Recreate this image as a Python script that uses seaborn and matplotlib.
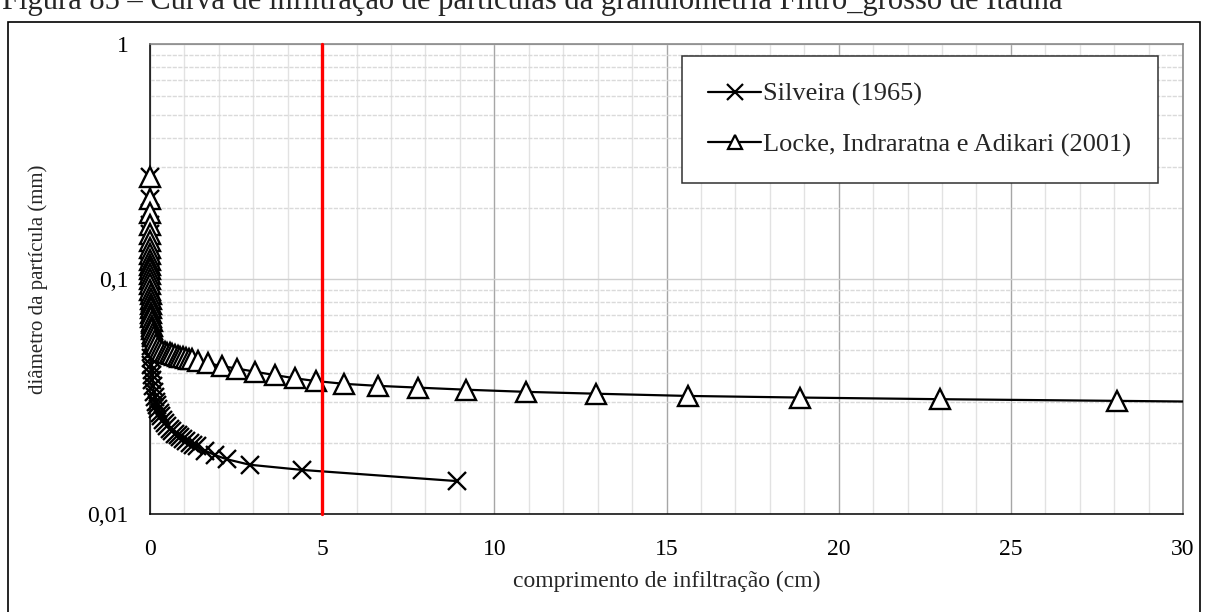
import matplotlib
matplotlib.use("Agg")
import matplotlib.pyplot as plt
import matplotlib.ticker as mticker
from matplotlib.lines import Line2D
from matplotlib.patches import Rectangle
from matplotlib.transforms import Bbox, TransformedBbox
import pandas as pd
import seaborn as sns

# Silveira (1965): infiltration length (cm) vs particle diameter (mm)
silveira_x = [0.00, 0.00, 0.00, 0.00, 0.00, 0.00, 0.00, 0.00, 0.00, 0.00,
              0.00, 0.00, 0.01, 0.01, 0.01, 0.01, 0.01, 0.02, 0.02, 0.02,
              0.03, 0.03, 0.04, 0.05, 0.06, 0.07, 0.09, 0.11, 0.14, 0.17,
              0.20, 0.24, 0.28, 0.33, 0.38, 0.44, 0.50, 0.57, 0.64, 0.72,
              0.80, 0.88, 0.97, 1.06, 1.16, 1.26, 1.36, 1.60, 1.89, 2.23,
              2.90, 4.42, 8.93]
silveira_d = [0.272, 0.220, 0.190, 0.170, 0.155, 0.143, 0.132, 0.122, 0.113, 0.105,
              0.098, 0.091, 0.085, 0.079, 0.074, 0.069, 0.064, 0.060, 0.056, 0.052,
              0.049, 0.046, 0.043, 0.041, 0.039, 0.037, 0.035, 0.033, 0.0315, 0.0300,
              0.0290, 0.0280, 0.0270, 0.0260, 0.0251, 0.0243, 0.0236, 0.0230, 0.0225, 0.0220,
              0.0216, 0.0212, 0.0208, 0.0205, 0.0201, 0.0197, 0.0194, 0.0186, 0.0178, 0.0171,
              0.0162, 0.0154, 0.0138]

# Locke, Indraratna e Adikari (2001)
locke_x = [0.00, 0.00, 0.00, 0.00, 0.00, 0.00, 0.00, 0.00, 0.00, 0.00,
           0.01, 0.01, 0.01, 0.01, 0.01, 0.02, 0.02, 0.02, 0.03, 0.03,
           0.04, 0.05, 0.06, 0.07, 0.09, 0.11, 0.14, 0.18, 0.23, 0.30,
           0.36, 0.43, 0.50, 0.57, 0.64, 0.72, 0.80, 0.88, 0.96, 1.04,
           1.12, 1.21, 1.40, 1.69, 2.08, 2.52, 3.05, 3.63, 4.21, 4.81,
           5.64, 6.61, 7.78, 9.18, 10.91, 12.95, 15.61, 18.88, 22.93, 28.08,
           34.20]
locke_d = [0.272, 0.220, 0.190, 0.170, 0.155, 0.145, 0.136, 0.128, 0.121, 0.115,
           0.110, 0.105, 0.100, 0.095, 0.090, 0.086, 0.082, 0.078, 0.075, 0.072,
           0.069, 0.066, 0.063, 0.061, 0.059, 0.057, 0.055, 0.053, 0.0515, 0.0502,
           0.0496, 0.0491, 0.0486, 0.0482, 0.0478, 0.0474, 0.0470, 0.0467, 0.0464, 0.0461,
           0.0458, 0.0455, 0.0448, 0.0438, 0.0426, 0.0416, 0.0403, 0.0390, 0.0378, 0.0368,
           0.0358, 0.0351, 0.0345, 0.0338, 0.0331, 0.0325, 0.0318, 0.0313, 0.0308, 0.0303,
           0.0297]

series_names = ["Silveira (1965)", "Locke, Indraratna e Adikari (2001)"]
limit_length = 5

x_ticks = [0, 5, 10, 15, 20, 25, 30]
y_ticks = [0.01, 0.1, 1]
y_tick_labels = ["0,01", "0,1", "1"]

caption = ("Figura 85 – Curva de infiltração de partículas da granulometria "
           "Filtro_grosso de Itaúna")

sns.set_theme(style="white")
plt.rcParams["font.family"] = ["Liberation Serif", "DejaVu Serif"]

W, H = 1206, 612
fig = plt.figure(figsize=(W / 100, H / 100), dpi=100)
fig.patch.set_facecolor("white")
ax = fig.add_axes([150 / W, 1 - 514 / H, (1183 - 150) / W, (514 - 44) / H])

sil = pd.DataFrame({"x": silveira_x, "d": silveira_d})
loc = pd.DataFrame({"x": locke_x, "d": locke_d})

sns.lineplot(data=sil, x="x", y="d", estimator=None, sort=False, ax=ax,
             color="black", linewidth=1.6, marker="x", markersize=13,
             markeredgewidth=1.7, markeredgecolor="black", zorder=3)
sns.lineplot(data=loc, x="x", y="d", estimator=None, sort=False, ax=ax,
             color="black", linewidth=1.6, marker="^", markersize=15,
             markerfacecolor="white", markeredgecolor="black",
             markeredgewidth=1.7, zorder=4)
ax.axvline(limit_length, color="#ff0000", linewidth=2.4, zorder=5)

ax.set_yscale("log")
ax.set_xlim(0, 30)
ax.set_ylim(0.01, 1)

# let the markers sitting on x = 0 spill past the left spine
clip = TransformedBbox(Bbox([[-0.03, -0.03], [1.0, 1.03]]), ax.transAxes)
for ln in ax.lines:
    ln.set_clip_path(None)
    ln.set_clip_box(clip)

ax.set_xticks(x_ticks)
ax.set_xticklabels([str(t) for t in x_ticks])
ax.set_yticks(y_ticks)
ax.set_yticklabels(y_tick_labels)
ax.xaxis.set_minor_locator(mticker.MultipleLocator(1))
ax.yaxis.set_minor_locator(mticker.LogLocator(base=10, subs=range(2, 10)))
ax.yaxis.set_minor_formatter(mticker.NullFormatter())
ax.tick_params(which="both", length=0, labelsize=17, colors="black")
ax.tick_params(axis="x", pad=18)
ax.tick_params(axis="y", pad=15.5)

ax.grid(which="major", axis="x", color="#a6a6a6", linewidth=1.0)
ax.grid(which="minor", axis="x", color="#e2e2e2", linewidth=1.0)
ax.grid(which="major", axis="y", color="#cfcfcf", linewidth=1.0)
ax.grid(which="minor", axis="y", color="#dadada", linewidth=1.0,
        linestyle=(0, (3, 1)))
ax.set_axisbelow(True)

for side in ("left", "bottom"):
    ax.spines[side].set_color("#000000")
    ax.spines[side].set_linewidth(1.1)
for side in ("top", "right"):
    ax.spines[side].set_color("#808080")
    ax.spines[side].set_linewidth(1.1)

ax.set_xlabel("comprimento de infiltração (cm)", fontsize=17, labelpad=8)
ax.set_ylabel("diâmetro da partícula (mm)", fontsize=15)
ax.yaxis.set_label_coords(-0.099, 0.5)

handles = [
    Line2D([], [], color="black", linewidth=1.6, marker="x", markersize=11,
           markeredgewidth=1.6),
    Line2D([], [], color="black", linewidth=1.6, marker="^", markersize=10,
           markerfacecolor="white", markeredgecolor="black", markeredgewidth=1.6),
]
leg = ax.legend(handles, series_names, loc="upper left",
                bbox_to_anchor=(682 / W, 1 - 56 / H),
                bbox_transform=fig.transFigure, fontsize=19, frameon=True,
                fancybox=False, handlelength=2.0, handletextpad=0.08,
                labelspacing=1.0, borderpad=1.0, borderaxespad=0)
leg.get_frame().set_edgecolor("#303030")
leg.get_frame().set_linewidth(1.1)
leg.get_frame().set_facecolor("white")
leg.get_frame().set_alpha(1)

fig.text(2 / W, 1 - 9 / H, caption, fontsize=22, ha="left", va="baseline")

frame = Rectangle((8 / W, -0.05), (1200 - 8) / W, (1 - 22 / H) + 0.05,
                  transform=fig.transFigure, fill=False, edgecolor="black",
                  linewidth=1.2, clip_on=False)
fig.add_artist(frame)

fig.savefig("out.png", dpi=100)
